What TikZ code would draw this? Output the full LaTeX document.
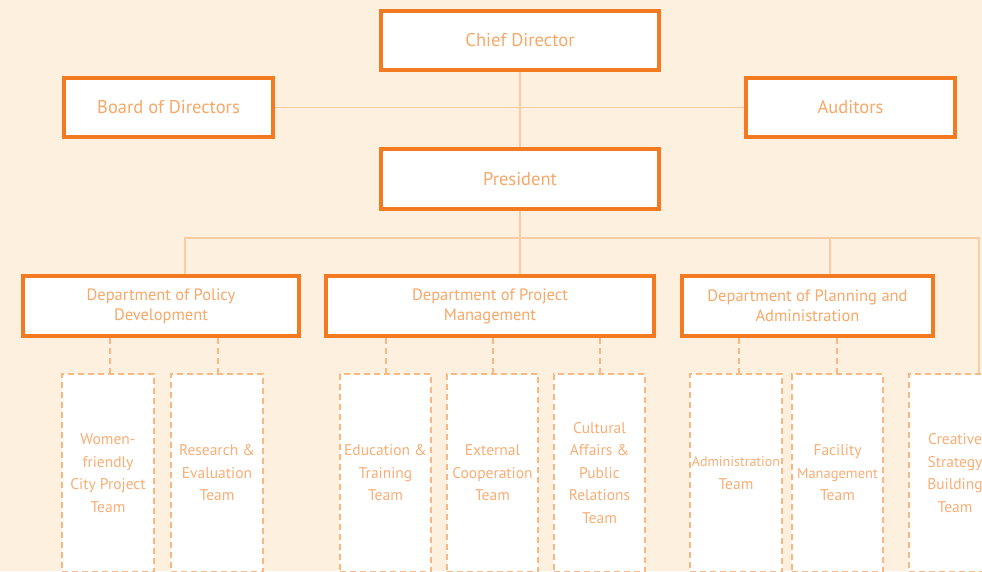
\documentclass[tikz,border=0pt]{standalone}
\usepackage{fontspec}
\setmainfont{PT Sans}
\usetikzlibrary{calc}
\definecolor{bgc}{HTML}{FDF0DF}
\definecolor{boxc}{HTML}{F47A22}
\definecolor{txtc}{HTML}{F8A868}
\definecolor{teamtxt}{HTML}{F9AE76}
\definecolor{linec}{HTML}{FBCCA2}
\definecolor{dashc}{HTML}{F9B784}
\pgfdeclarelayer{bglayer}
\pgfdeclarelayer{lines}
\pgfsetlayers{bglayer,lines,main}
\tikzset{
  bigbox/.style={draw=boxc, line width=4.3pt, fill=white, minimum height=59pt, inner sep=0pt,
    text=txtc, font=\fontsize{18.5}{20}\selectfont, align=center},
  deptbox/.style={bigbox, minimum height=60pt, font=\fontsize{16.5}{20}\selectfont},
  teambox/.style={draw=dashc, line width=1.6pt, dash pattern=on 6pt off 4pt, fill=white,
    minimum width=91pt, minimum height=198pt, inner sep=0pt, text=teamtxt,
    font=\fontsize{15.5}{22.5}\selectfont, align=center},
  conn/.style={draw=linec, line width=1.5pt},
  dconn/.style={draw=dashc, line width=1.5pt, dash pattern=on 6pt off 4pt},
}
\begin{document}
\begin{tikzpicture}[x=1pt,y=-1pt]
\useasboundingbox (0,0) rectangle (982,571);
\clip (0,0) rectangle (982,571);
\begin{pgfonlayer}{bglayer}
\fill[bgc] (0,0) rectangle (982,571);
\end{pgfonlayer}
\node[bigbox, minimum width=278pt] (chief) at (520,40.5) {Chief Director};
\node[bigbox, minimum width=209pt] (board) at (168.5,107.5) {Board of Directors};
\node[bigbox, minimum width=209pt] (aud) at (850.5,107.5) {Auditors};
\node[bigbox, minimum width=278pt, minimum height=60pt] (pres) at (520,179) {President};
\node[deptbox, minimum width=276pt] (pol) at (161,306) {Department of Policy\\Development};
\node[deptbox, minimum width=328pt] (proj) at (490,306) {Department of Project\\Management};
\node[deptbox, minimum width=251pt] (plan) at (807.5,306) {Department of Planning and\\Administration};
\node[teambox, minimum width=92pt] (women) at (108,473) {Women-\\friendly\\City Project\\Team};
\node[teambox, minimum width=92pt] (res) at (217,473) {Research \&\\Evaluation\\Team};
\node[teambox] (edu) at (385.5,473) {Education \&\\Training\\Team};
\node[teambox] (ext) at (492.5,473) {External\\Cooperation\\Team};
\node[teambox] (cul) at (599.5,473) {Cultural\\Affairs \&\\Public\\Relations\\Team};
\node[teambox, minimum width=92pt] (adm) at (736,473) {{\fontsize{14}{22.5}\selectfont Administration}\\Team};
\node[teambox] (fac) at (837.5,473) {Facility\\{\fontsize{14.5}{22.5}\selectfont Management}\\Team};
\node[teambox, minimum width=92pt] (cre) at (955,473) {Creative\\Strategy\\Building\\Team};
\coordinate (bus) at (520,238);
\coordinate (lc) at (185,238);
\coordinate (pc) at (830,238);
\coordinate (rc) at (979,238);
\begin{pgfonlayer}{lines}
\draw[conn] (chief.south) -- (pres.north);
\draw[conn] (board.east) -- (aud.west);
\draw[conn] (pres.south) -- (pres.south |- proj.north);
\draw[conn] (lc |- pol.north) -- (lc) -- (rc) -- (rc |- cre.north);
\draw[conn] (pc) -- (pc |- plan.north);
\draw[dconn] (pol.south -| 110,0) -- (women.north -| 110,0);
\draw[dconn] (pol.south -| 218,0) -- (res.north -| 218,0);
\draw[dconn] (proj.south -| 386,0) -- (edu.north -| 386,0);
\draw[dconn] (proj.south -| 493,0) -- (ext.north -| 493,0);
\draw[dconn] (proj.south -| 600,0) -- (cul.north -| 600,0);
\draw[dconn] (plan.south -| 739,0) -- (adm.north -| 739,0);
\draw[dconn] (plan.south -| 837,0) -- (fac.north -| 837,0);
\end{pgfonlayer}
\end{tikzpicture}
\end{document}
